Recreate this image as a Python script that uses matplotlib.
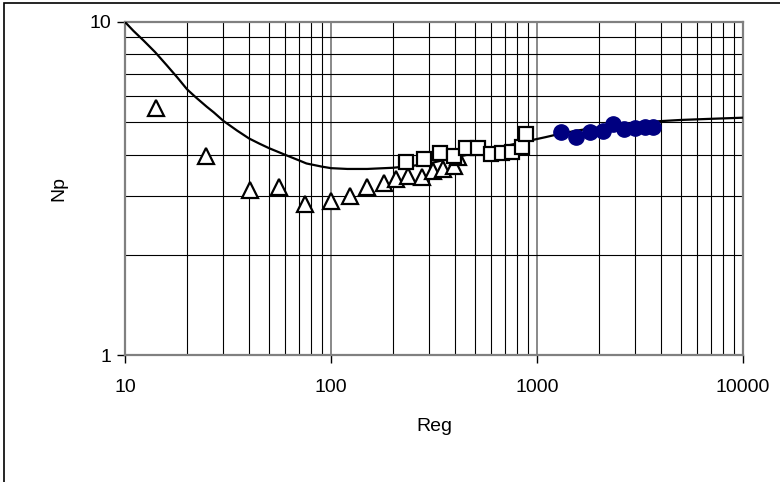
import numpy as np
import matplotlib
matplotlib.use('Agg')
import matplotlib.pyplot as plt
from matplotlib.patches import Rectangle
from matplotlib.ticker import FixedLocator, NullFormatter

# Dane
tri_re = [14.1, 24.7, 40.4, 55.9, 75.0, 99.7, 124, 150, 180, 206, 237, 275, 314, 351, 395, 415]
tri_np = [5.53, 3.97, 3.13, 3.20, 2.84, 2.91, 3.00, 3.19, 3.29, 3.38, 3.45, 3.43, 3.57, 3.62, 3.70, 3.94]

sq_re = [231, 284, 338, 395, 452, 519, 598, 679, 759, 843, 884]
sq_np = [3.81, 3.87, 4.03, 3.96, 4.18, 4.18, 4.01, 4.03, 4.08, 4.22, 4.61]

circ_re = [1308, 1546, 1807, 2099, 2330, 2643, 2991, 3344, 3669]
circ_np = [4.67, 4.52, 4.68, 4.71, 4.94, 4.78, 4.79, 4.83, 4.83]

curve_re = [10, 11, 12.3, 14, 15.9, 18, 20, 22, 24.9, 27, 30, 35, 40, 45, 50, 60, 70,
            76, 90, 100, 120, 150, 200, 250, 300, 400, 500, 600, 750, 900,
            1100, 1300, 1600, 2000, 2500, 3000, 4000, 5000, 7000, 10000]
curve_np = [10.0, 9.40, 8.80, 8.12, 7.43, 6.80, 6.28, 5.95, 5.57, 5.35, 5.05, 4.72, 4.47,
            4.31, 4.18, 3.99, 3.84, 3.76, 3.68, 3.64, 3.62, 3.62, 3.65, 3.70, 3.76,
            3.92, 4.04, 4.15, 4.28, 4.39, 4.51, 4.62, 4.73, 4.83, 4.91, 4.97, 5.04,
            5.08, 5.12, 5.16]

x_ticks = [10, 100, 1000, 10000]
x_labels = ['10', '100', '1000', '10000']
y_ticks = [1, 10]
y_labels = ['1', '10']

plt.rcParams['font.family'] = ['Liberation Sans', 'DejaVu Sans']

fig = plt.figure(figsize=(7.8, 4.82), dpi=100)
ax = fig.add_axes([125/780, 1 - 355/482, (743-125)/780, (355-22)/482])

ax.set_xscale('log')
ax.set_yscale('log')
ax.set_xlim(10, 10000)
ax.set_ylim(1, 10)

# siatka
minor_x = [m * d for d in (10, 100, 1000) for m in range(2, 10)]
minor_y = list(range(2, 10))
ax.xaxis.set_minor_locator(FixedLocator(minor_x))
ax.yaxis.set_minor_locator(FixedLocator(minor_y))
ax.xaxis.set_minor_formatter(NullFormatter())
ax.yaxis.set_minor_formatter(NullFormatter())
ax.grid(which='major', axis='x', color='#808080', lw=1.3)
ax.grid(which='minor', color='black', lw=0.8)
ax.grid(which='major', axis='y', color='#808080', lw=1.3)
ax.set_axisbelow(True)

ax.set_xticks(x_ticks)
ax.set_xticklabels(x_labels)
ax.set_yticks(y_ticks)
ax.set_yticklabels(y_labels)
ax.tick_params(which='minor', length=0)
ax.tick_params(which='major', length=6, width=1, color='black', labelsize=14, pad=4)
ax.tick_params(axis='x', pad=11)

for s in ax.spines.values():
    s.set_color('#808080')
    s.set_linewidth(1.6)

ax.plot(curve_re, curve_np, color='black', lw=1.6, zorder=3)
ax.plot(tri_re, tri_np, ls='none', marker='^', ms=11, mfc='white', mec='black', mew=1.6, zorder=4)
ax.plot(sq_re, sq_np, ls='none', marker='s', ms=9.5, mfc='white', mec='black', mew=1.6, zorder=4)
ax.plot(circ_re, circ_np, ls='none', marker='o', ms=11, mfc='#000080', mec='#000080', zorder=5)

ax.set_xlabel('Reg', fontsize=14, labelpad=16)
ax.set_ylabel('Np', fontsize=14, labelpad=16)

# ramka obszaru wykresu
fig.patches.append(Rectangle((4/780, -0.1), 1.2, 1 - 3/482 + 0.1, transform=fig.transFigure,
                             fill=False, ec='black', lw=1.2))

fig.savefig('out.png', dpi=100)
